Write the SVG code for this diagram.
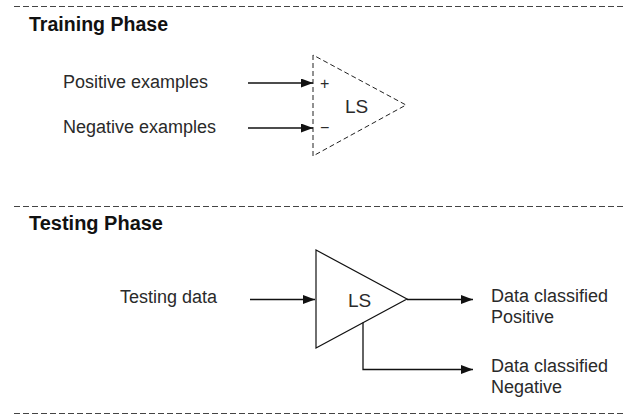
<svg xmlns="http://www.w3.org/2000/svg" width="626" height="416" viewBox="0 0 626 416">
  <defs>
    <marker id="arrow" markerUnits="userSpaceOnUse" markerWidth="13" markerHeight="10" refX="12" refY="4.5" orient="auto">
      <path d="M0,0 L12,4.5 L0,9 z" fill="#111"/>
    </marker>
    <style>
      .sep { stroke: #444; stroke-width: 1; stroke-dasharray: 6 3; fill: none; }
      .title { font-family: "Liberation Sans", Arial, sans-serif; font-weight: bold; font-size: 20px; fill: #111; }
      .lbl { font-family: "Liberation Sans", Arial, sans-serif; font-size: 18px; fill: #2a2a2a; }
      .ls { font-family: "Liberation Sans", Arial, sans-serif; font-size: 19px; fill: #2a2a2a; }
      .sign { font-family: "Liberation Sans", Arial, sans-serif; font-size: 16px; fill: #2a2a2a; }
      .conn { stroke: #111; stroke-width: 1.3; fill: none; }
      .tri-dash { stroke: #222; stroke-width: 1; stroke-dasharray: 5 3; fill: none; }
      .tri { stroke: #111; stroke-width: 1.2; fill: none; }
    </style>
  </defs>
  <rect width="626" height="416" fill="#fff"/>

  <g id="separators">
    <line class="sep" x1="14" y1="6.5" x2="626" y2="6.5"/>
    <line class="sep" x1="14" y1="206.5" x2="626" y2="206.5"/>
    <line class="sep" x1="14" y1="413.5" x2="626" y2="413.5"/>
  </g>

  <g id="training-title">
    <text class="title" x="29" y="31" textLength="139" lengthAdjust="spacingAndGlyphs">Training Phase</text>
  </g>
  <g id="positive-examples">
    <text class="lbl" x="63" y="88">Positive examples</text>
  </g>
  <g id="negative-examples">
    <text class="lbl" x="63" y="133">Negative examples</text>
  </g>
  <g id="training-ls">
    <polygon class="tri-dash" points="313,55 313,156 406,105"/>
    <text class="sign" x="320" y="89">+</text>
    <text class="sign" x="320" y="133">−</text>
    <text class="ls" x="345" y="113">LS</text>
  </g>

  <g id="testing-title">
    <text class="title" x="29" y="230" textLength="134" lengthAdjust="spacingAndGlyphs">Testing Phase</text>
  </g>
  <g id="testing-data">
    <text class="lbl" x="120" y="303">Testing data</text>
  </g>
  <g id="testing-ls">
    <polygon class="tri" points="316,250 316,348 407,299"/>
    <text class="ls" x="348" y="307">LS</text>
  </g>
  <g id="classified-positive">
    <text class="lbl" x="491" y="302">Data classified</text>
    <text class="lbl" x="491" y="323">Positive</text>
  </g>
  <g id="classified-negative">
    <text class="lbl" x="491" y="372">Data classified</text>
    <text class="lbl" x="491" y="393">Negative</text>
  </g>

  <g id="connectors">
    <line class="conn" x1="248" y1="83" x2="313" y2="83" marker-end="url(#arrow)"/>
    <line class="conn" x1="248" y1="128" x2="313" y2="128" marker-end="url(#arrow)"/>
    <line class="conn" x1="250" y1="299.5" x2="315" y2="299.5" marker-end="url(#arrow)"/>
    <line class="conn" x1="407" y1="299.5" x2="473" y2="299.5" marker-end="url(#arrow)"/>
    <polyline class="conn" points="363,322.5 363,369.5 473,369.5" marker-end="url(#arrow)"/>
  </g>
</svg>
